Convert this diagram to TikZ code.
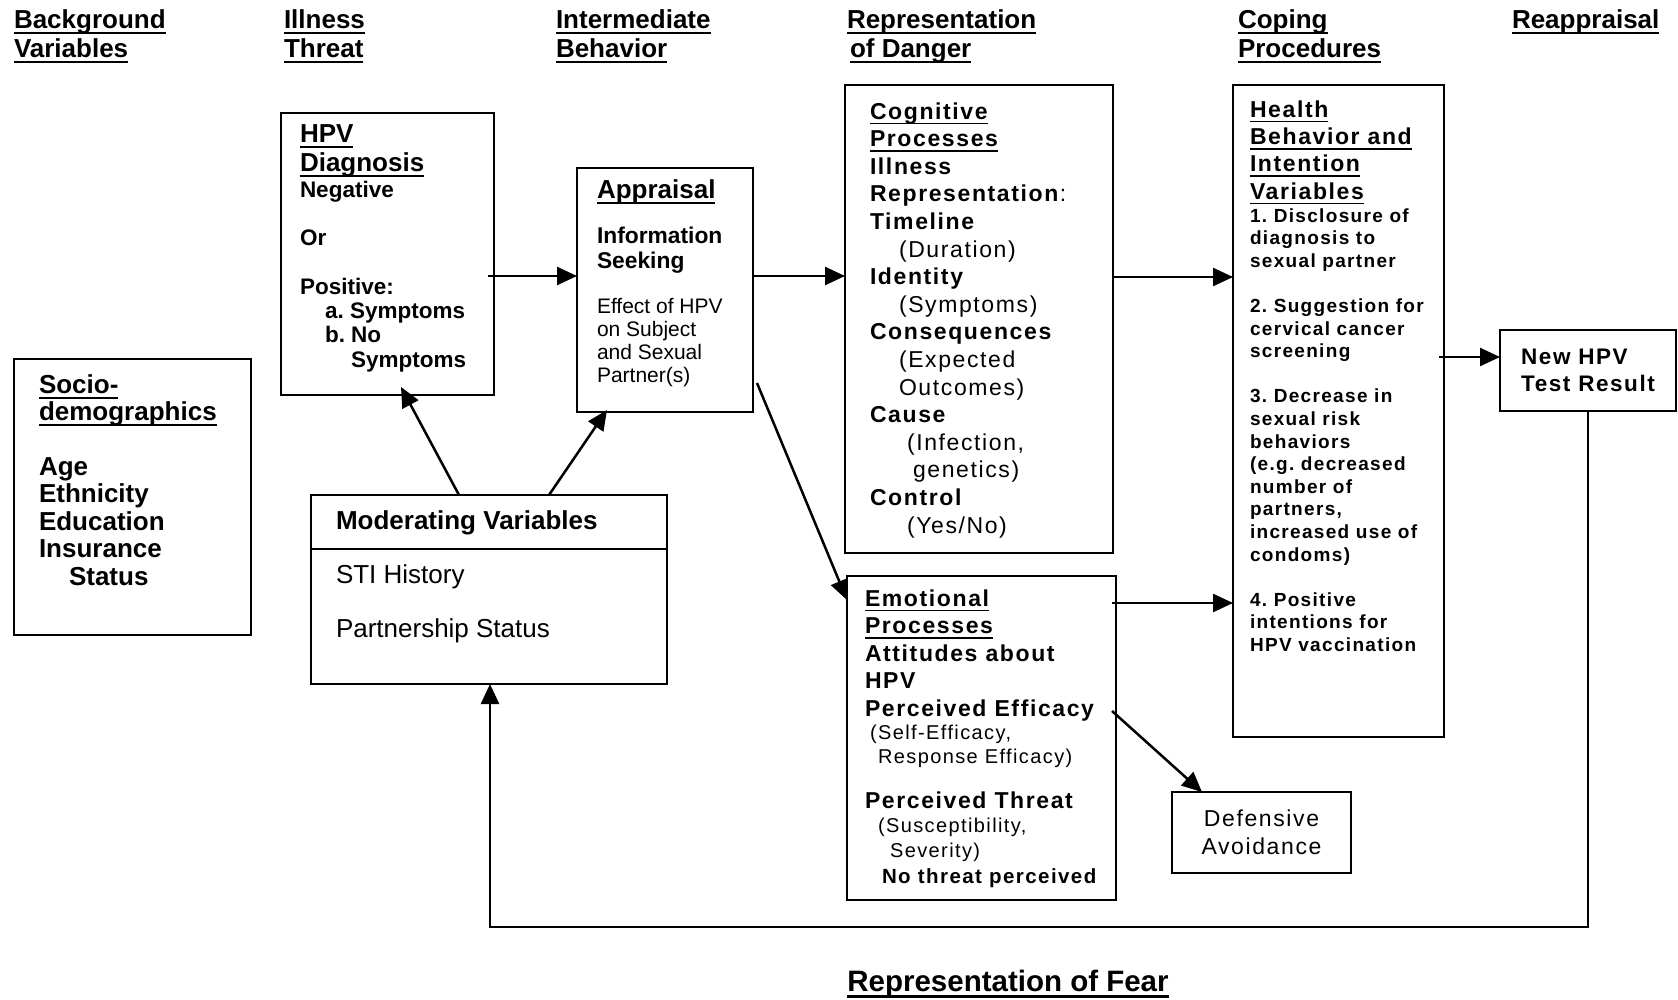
\documentclass[tikz,border=0pt]{standalone}
\usepackage{fontspec}
\setmainfont{Liberation Sans}
\newfontfamily\lsf{Liberation Sans}[LetterSpace=7]
\usetikzlibrary{arrows.meta,calc}
\newcommand\fsz[2]{\fontsize{#1pt}{#2pt}\selectfont}
\newsavebox\myulbox
\newcommand\myul[1]{\leavevmode\setbox\myulbox\hbox{#1}\rlap{\vrule height -0.15em depth 0.22em width \wd\myulbox}\box\myulbox}
\begin{document}
\frenchspacing
\begin{tikzpicture}[x=1pt,y=-1pt,
  box/.style={draw, line width=2pt, inner sep=0pt, outer sep=0pt},
  txt/.style={inner sep=0pt, outer sep=0pt, align=left, anchor=north west},
  btxt/.style={inner sep=0pt, outer sep=0pt, anchor=base west},
  hdr/.style={txt, font=\bfseries\fsz{26}{29}},
  arr/.style={line width=2.5pt, -{Triangle[length=20pt,width=18pt]}}]
\fill[white] (0,0) rectangle (1678,999);
\useasboundingbox (0,0) rectangle (1678,999);

% column headers
\node[hdr] (h1) at (14,9.3) {\myul{Background}\\\myul{Variables}};
\node[hdr] (h2) at (284,9.3) {\myul{Illness}\\\myul{Threat}};
\node[hdr] (h3) at (556,9.3) {\myul{Intermediate}\\\myul{Behavior}};
\node[hdr] (h4) at (847,9.3) {\myul{Representation}\\\hspace*{3pt}\myul{of Danger}};
\node[hdr] (h5) at (1238,9.3) {\myul{Coping}\\\myul{Procedures}};
\node[hdr] (h6) at (1512,9.3) {\myul{Reappraisal}};

% boxes
\node[box, minimum width=213pt, minimum height=282pt] (hpv) at (387.5,254) {};
\node[box, minimum width=176pt, minimum height=244pt] (app) at (665,290) {};
\node[box, line width=1.4pt, minimum width=268pt, minimum height=468pt] (cog) at (979,319) {};
\node[box, minimum width=211pt, minimum height=652pt] (hlt) at (1338.5,411) {};
\node[box, minimum width=176pt, minimum height=81pt, align=left, font=\lsf\bfseries\fsz{22.5}{27}] (new) at (1588,370.5) {New HPV\\Test Result};
\node[box, minimum width=237pt, minimum height=276pt] (soc) at (132.5,497) {};
\node[box, minimum width=356pt, minimum height=189pt] (mod) at (489,589.5) {};
\node[box, minimum width=269pt, minimum height=324pt] (emo) at (981.5,738) {};
\node[box, minimum width=179pt, minimum height=81pt, align=center, font=\lsf\fsz{23}{28}] (def) at (1261.5,832.5) {Defensive\\Avoidance};
\draw[line width=2pt] (mod.west |- 0,549) -- (mod.east |- 0,549);

% HPV diagnosis
\node[txt, font=\bfseries\fsz{26}{29}] (hpvh) at (300,124.3) {\myul{HPV}\\\myul{Diagnosis}};
\node[txt, font=\bfseries\fsz{22.5}{24.3}] (hpvb) at (300,180.8) {Negative\\[24.3pt]Or\\[24.3pt]Positive:\\\hspace*{25pt}a. Symptoms\\\hspace*{25pt}b. No\\\hspace*{51pt}Symptoms};

% Appraisal
\node[txt, font=\bfseries\fsz{26}{29}] (apph) at (597,179.3) {\myul{Appraisal}};
\node[txt, font=\bfseries\fsz{22.8}{25}] (appi) at (597,226.6) {Information\\Seeking};
\node[txt, font=\fsz{21}{23}] (appe) at (597,297.9) {Effect of HPV\\on Subject\\and Sexual\\Partner(s)};

% Cognitive
\node[txt, font=\lsf\bfseries\fsz{23}{27.6}] (cogt) at (870,102.4) {\myul{Cognitive}\\\myul{Processes}\\Illness\\Representation\textmd{:}\\Timeline\\\hspace*{29pt}\textmd{(Duration)}\\Identity\\\hspace*{29pt}\textmd{(Symptoms)}\\Consequences\\\hspace*{29pt}\textmd{(Expected}\\\hspace*{29pt}\textmd{Outcomes)}\\Cause\\\hspace*{37pt}\textmd{(Infection,}\\\hspace*{43pt}\textmd{genetics)}\\Control\\\hspace*{37pt}\textmd{(Yes/No)}};

% Health behaviour
\node[txt, font=\lsf\bfseries\fsz{23}{27.4}] (hlth) at (1250,100.4) {\myul{Health}\\\myul{Behavior and}\\\myul{Intention}\\\myul{Variables}};
\node[txt, font=\lsf\bfseries\fsz{19}{22.6}] (hltb) at (1250,208.3) {1. Disclosure of\\diagnosis to\\sexual partner\\[22.6pt]2. Suggestion for\\cervical cancer\\screening\\[22.6pt]3. Decrease in\\sexual risk\\behaviors\\(e.g. decreased\\number of\\partners,\\increased use of\\condoms)\\[22.6pt]4. Positive\\intentions for\\HPV vaccination};

% Socio-demographics
\node[txt, font=\bfseries\fsz{26}{27}] (soch) at (39,374.3) {\myul{Socio-}\\\myul{demographics}};
\node[txt, font=\bfseries\fsz{26}{27.5}] (socb) at (39,457.3) {Age\\Ethnicity\\Education\\Insurance\\\hspace*{30pt}Status};

% Moderating
\node[btxt, font=\bfseries\fsz{26}{29}] (modh) at (336,529) {Moderating Variables};
\node[btxt, font=\fsz{26}{29}] (mod1) at (336,583) {STI History};
\node[btxt, font=\fsz{26}{29}] (mod2) at (336,637) {Partnership Status};

% Emotional
\node[txt, font=\lsf\bfseries\fsz{23}{27.6}] (emo1) at (865,589.4) {\myul{Emotional}\\\myul{Processes}\\Attitudes about\\HPV\\Perceived Efficacy};
\node[txt, font=\lsf\fsz{20}{24}] (emo2) at (870,725.4) {(Self-Efficacy,\\\hspace*{8pt}Response Efficacy)};
\node[btxt, font=\lsf\bfseries\fsz{23}{27}] (emo3) at (865,808) {Perceived Threat};
\node[txt, font=\lsf\fsz{20}{25}] (emo4) at (878,818.4) {(Susceptibility,\\\hspace*{12pt}Severity)};
\node[btxt, font=\lsf\bfseries\fsz{20.5}{25}] (emo5) at (882,883) {No threat perceived};

% bottom label
\node[anchor=base, inner sep=0pt, font=\bfseries\fsz{29.5}{32}] (fear) at (1008,991) {\myul{Representation of Fear}};

% connectors
\draw[arr] ($(hpv.east |- 0,276)+(-6,0)$) -- (app.west |- 0,276);
\draw[arr] (app.east |- 0,276) -- (cog.west |- 0,276);
\draw[arr] (cog.east |- 0,277) -- (hlt.west |- 0,277);
\draw[arr] ($(hlt.east |- 0,357)+(-5,0)$) -- (new.west |- 0,357);
\draw[arr] ($(emo.east |- 0,603)+(-4,0)$) -- (hlt.west |- 0,603);
\draw[arr] ($(app.east |- 0,383)+(4,0)$) -- (emo.west |- 0,600);
\draw[arr] ($(emo.east |- 0,711)+(-4,0)$) -- ($(def.north west)+(30,0)$);
\draw[arr] (mod.north -| 459,0) -- ($(hpv.south -| 401,0)+(0,-8)$);
\draw[arr] (mod.north -| 549,0) -- ($(app.south -| 607,0)+(0,-2)$);
\coordinate (fbR) at (1588,927);
\coordinate (fbL) at (490,927);
\draw[arr] (new.south) -- (fbR) -- (fbL) -- (mod.south -| fbL);
\end{tikzpicture}
\end{document}
